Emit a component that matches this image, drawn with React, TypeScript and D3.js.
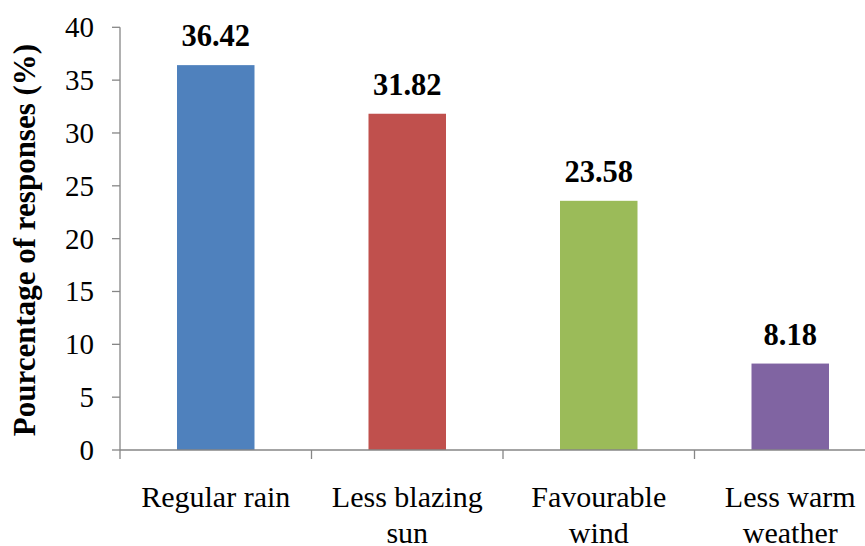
import React from "react";
import * as d3 from "d3";

const categories: string[][] = [
  ["Regular rain"],
  ["Less blazing", "sun"],
  ["Favourable", "wind"],
  ["Less warm", "weather"],
];
const values: number[] = [36.42, 31.82, 23.58, 8.18];
const colors: string[] = ["#4F81BD", "#C0504D", "#9BBB59", "#8064A2"];
const yTicks: number[] = [0, 5, 10, 15, 20, 25, 30, 35, 40];
const yTitle = "Pourcentage of responses (%)";

const W = 865;
const H = 546;
const FONT = '"Liberation Serif", "DejaVu Serif", "Times New Roman", serif';

export default function App() {
  const left = 120;
  const step = 191.5;
  const keys = categories.map((c) => c.join(" "));
  const x = d3
    .scaleBand<string>()
    .domain(keys)
    .range([left, left + step * keys.length])
    .padding(0);
  const y = d3.scaleLinear().domain([0, 40]).range([450, 27.3]);
  const barW = 77.5;
  const axisColor = "#868686";
  const boundaries = keys.map((k) => x(k) as number).concat([left + step * keys.length]);
  const txt = { fontFamily: FONT };

  return (
    <svg
      width={W}
      height={H}
      style={{ position: "absolute", left: 0, top: 0, background: "#fff", display: "block" }}
    >
      <rect width={W} height={H} fill="#fff" />
      {/* bars with value labels */}
      {keys.map((k, i) => {
        const bx = (x(k) as number) + (x.bandwidth() - barW) / 2;
        return (
          <g key={k}>
            <rect
              x={bx}
              y={y(values[i])}
              width={barW}
              height={y(0) - y(values[i])}
              fill={colors[i]}
            />
            <text
              x={bx + barW / 2}
              y={y(values[i]) - 19}
              textAnchor="middle"
              fontWeight="bold"
              fontSize={30.5}
              fill="#000"
              style={txt}
            >
              {values[i].toFixed(2)}
            </text>
          </g>
        );
      })}
      {/* y axis */}
      <line x1={left} x2={left} y1={y(40)} y2={y(0)} stroke={axisColor} strokeWidth={1.3} />
      {yTicks.map((t) => (
        <g key={t}>
          <line x1={left - 8} x2={left} y1={y(t)} y2={y(t)} stroke={axisColor} strokeWidth={1.3} />
          <text
            x={94}
            y={y(t)}
            textAnchor="end"
            dominantBaseline="central"
            fontSize={29}
            fill="#000"
            style={txt}
          >
            {t}
          </text>
        </g>
      ))}
      {/* x axis */}
      <line
        x1={left}
        x2={left + step * keys.length}
        y1={y(0)}
        y2={y(0)}
        stroke={axisColor}
        strokeWidth={1.3}
      />
      {boundaries.map((b, i) => (
        <line key={i} x1={b} x2={b} y1={y(0)} y2={y(0) + 9} stroke={axisColor} strokeWidth={1.3} />
      ))}
      {categories.map((lines, i) => (
        <text
          key={keys[i]}
          x={(x(keys[i]) as number) + x.bandwidth() / 2}
          y={507}
          textAnchor="middle"
          fontSize={30}
          fill="#000"
          style={txt}
        >
          {lines.map((ln, j) => (
            <tspan key={j} x={(x(keys[i]) as number) + x.bandwidth() / 2} dy={j === 0 ? 0 : 36}>
              {ln}
            </tspan>
          ))}
        </text>
      ))}
      {/* y title */}
      <text
        transform={`translate(35, 240) rotate(-90)`}
        textAnchor="middle"
        fontWeight="bold"
        fontSize={31}
        fill="#000"
        style={txt}
      >
        {yTitle}
      </text>
    </svg>
  );
}
